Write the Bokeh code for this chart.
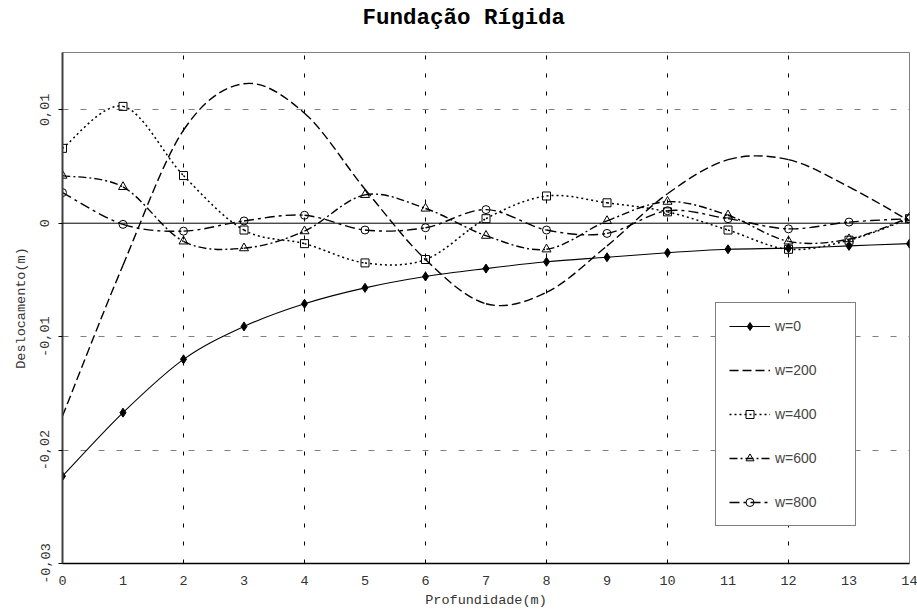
import numpy as np
from bokeh.plotting import figure
from bokeh.models import (Range1d, FixedTicker, CustomJSTickFormatter, Span,
                          Legend, LegendItem, Title)
from bokeh.embed import file_html
from bokeh.resources import INLINE

# Profundidade (m) e deslocamentos (m) para cada frequência w
profundidade = list(range(15))
w0 = [-0.0223, -0.0167, -0.0120, -0.0091, -0.0071, -0.0057, -0.0047, -0.0040,
      -0.0034, -0.0030, -0.0026, -0.0023, -0.0022, -0.0020, -0.0018]
w200 = [-0.0170, -0.0037, 0.0082, 0.0123, 0.0097, 0.0030, -0.0032, -0.0071,
        -0.0061, -0.0020, 0.0026, 0.0056, 0.0056, 0.0032, 0.0002]
w400 = [0.0066, 0.0103, 0.0042, -0.0006, -0.0018, -0.0035, -0.0032, 0.0004,
        0.0024, 0.0018, 0.0010, -0.0006, -0.0023, -0.0015, 0.0004]
w600 = [0.0042, 0.0032, -0.0016, -0.0022, -0.0007, 0.0025, 0.0013, -0.0011,
        -0.0023, 0.0002, 0.0019, 0.0007, -0.0016, -0.0014, 0.0005]
w800 = [0.0027, -0.0001, -0.0007, 0.0002, 0.0007, -0.0006, -0.0004, 0.0012,
        -0.0006, -0.0009, 0.0011, 0.0004, -0.0005, 0.0001, 0.0004]

x_ticks = list(range(15))
y_ticks = [-0.03, -0.02, -0.01, 0.0, 0.01]
y_grid = [-0.02, -0.01, 0.01]
x_grid = [2, 4, 6, 8, 10, 12]

MONO = "Liberation Mono"


def smooth_segments(xs, ys):
    """Cubic Bezier segments (Catmull-Rom style) through every data point."""
    x = np.asarray(xs, float)
    y = np.asarray(ys, float)
    n = len(x)
    xp = np.concatenate([[x[0]], x, [x[-1]]])
    yp = np.concatenate([[y[0]], y, [y[-1]]])
    return dict(
        x0=x[:-1], y0=y[:-1], x1=x[1:], y1=y[1:],
        cx0=x[:-1] + (xp[2:n + 1] - xp[0:n - 1]) / 6.0,
        cy0=y[:-1] + (yp[2:n + 1] - yp[0:n - 1]) / 6.0,
        cx1=x[1:] - (xp[3:n + 2] - xp[1:n]) / 6.0,
        cy1=y[1:] - (yp[3:n + 2] - yp[1:n]) / 6.0,
    )


p = figure(width=917, height=615, output_backend="svg", toolbar_location=None,
           x_range=Range1d(0, 14), y_range=Range1d(-0.03, 0.01505),
           min_border_left=62, min_border_right=8, min_border_top=52,
           min_border_bottom=52, background_fill_color="white",
           border_fill_color="white")
p.title = None

# a thin blank panel above the frame, then the chart title on top of it
p.add_layout(Title(text=" ", text_font_size="1px", standoff=19), "above")
p.add_layout(Title(text="Fundação Rígida", text_font=MONO,
                   text_font_size="22.5px", text_font_style="bold",
                   text_color="black", align="left", offset=300,
                   standoff=0), "above")

p.outline_line_color = "#808080"
p.outline_line_width = 1

# axes
p.xaxis.ticker = FixedTicker(ticks=x_ticks)
p.yaxis.ticker = FixedTicker(ticks=y_ticks)
p.yaxis.formatter = CustomJSTickFormatter(code="""
    if (Math.abs(tick) < 1e-12) return '0';
    return tick.toFixed(2).replace('.', ',');
""")
p.xaxis.axis_label = "Profundidade(m)"
p.yaxis.axis_label = "Deslocamento(m)"
for ax in (p.xaxis, p.yaxis):
    ax.axis_label_text_font = MONO
    ax.axis_label_text_font_size = "13.5px"
    ax.axis_label_text_font_style = "normal"
    ax.axis_label_text_color = "#333333"
    ax.major_label_text_font = MONO
    ax.major_label_text_font_size = "13.5px"
    ax.major_label_text_color = "#333333"
    ax.minor_tick_line_color = None
    ax.major_tick_in = 0

p.xaxis.major_tick_out = 0
p.xaxis.major_label_standoff = 12
p.xaxis.axis_label_standoff = 5
p.xaxis.axis_line_width = 1.5
p.xaxis.axis_line_color = "black"

p.yaxis.major_tick_out = 4
p.yaxis.major_label_orientation = "vertical"
p.yaxis.major_label_standoff = 9
p.yaxis.axis_label_standoff = 9
p.yaxis.axis_line_width = 2
p.yaxis.axis_line_color = "#404040"

# grid
p.xgrid.ticker = FixedTicker(ticks=x_grid)
p.xgrid.grid_line_color = "black"
p.xgrid.grid_line_dash = "4 14"
p.xgrid.grid_line_width = 1
p.ygrid.ticker = FixedTicker(ticks=y_grid)
p.ygrid.grid_line_color = "#808080"
p.ygrid.grid_line_dash = "6 12"
p.ygrid.grid_line_width = 1

p.add_layout(Span(location=0, dimension="width", line_color="black",
                  line_width=1))

series = [
    ("w=0", w0, dict(line_dash="solid", line_width=1.1),
     dict(marker="diamond", size=9, fill_color="black", line_color="black")),
    ("w=200", w200, dict(line_dash="9 4", line_width=1.4), None),
    ("w=400", w400, dict(line_dash="2 3", line_width=1.5),
     dict(marker="square", size=8, fill_alpha=0, line_color="black")),
    ("w=600", w600, dict(line_dash="8 3 2 3", line_width=1.4),
     dict(marker="triangle", size=9, fill_alpha=0, line_color="black")),
    ("w=800", w800, dict(line_dash="10 4 3 4", line_width=1.4),
     dict(marker="circle", size=8, fill_alpha=0, line_color="black")),
]

items = []
for label, vals, lstyle, mstyle in series:
    seg = smooth_segments(profundidade, vals)
    rs = [p.bezier(source=seg, x0="x0", y0="y0", x1="x1", y1="y1",
                   cx0="cx0", cy0="cy0", cx1="cx1", cy1="cy1",
                   line_color="black", **lstyle)]
    if mstyle is not None:
        rs.append(p.scatter(profundidade, vals, line_width=1, **mstyle))
    items.append(LegendItem(label=label, renderers=rs))

legend = Legend(items=items, location=(653, 37), margin=0, padding=13,
                spacing=24, glyph_height=20, glyph_width=41,
                label_standoff=5, label_width=67,
                label_text_font="Liberation Sans", label_text_font_size="14px",
                border_line_color="black", border_line_width=1,
                background_fill_color="white", background_fill_alpha=1)
p.add_layout(legend, "center")

open("out.html", "w").write(file_html(p, INLINE))
